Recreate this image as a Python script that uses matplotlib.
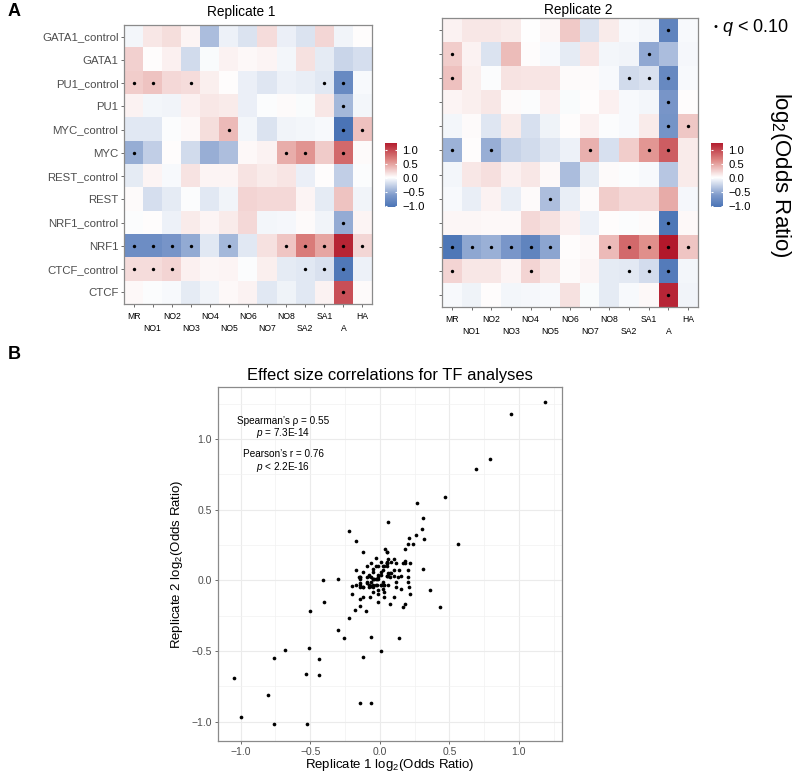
import numpy as np
import matplotlib
matplotlib.use("Agg")
import matplotlib.pyplot as plt
from matplotlib.colors import LinearSegmentedColormap, Normalize

plt.rcParams["font.family"] = ["Liberation Sans", "DejaVu Sans"]
plt.rcParams["mathtext.fontset"] = "custom"
plt.rcParams["mathtext.rm"] = "Liberation Sans"
plt.rcParams["mathtext.it"] = "Liberation Sans:italic"

# rows of the heatmaps (top to bottom) and columns (left to right)
tfs = ["GATA1_control", "GATA1", "PU1_control", "PU1", "MYC_control", "MYC",
       "REST_control", "REST", "NRF1_control", "NRF1", "CTCF_control", "CTCF"]
regions = ["MR", "NO1", "NO2", "NO3", "NO4", "NO5", "NO6", "NO7", "NO8",
           "SA2", "SA1", "A", "HA"]

# log2(odds ratio), replicate 1
rep1 = np.array([
    [-0.05, 0.12, 0.17, 0.05, -0.41, -0.08, -0.17, 0.18, -0.09, -0.17, 0.21, -0.06, 0.01],
    [0.24, 0.01, 0.07, -0.22, -0.02, 0.06, 0.03, 0.05, -0.05, 0.15, -0.12, -0.26, -0.20],
    [0.26, 0.31, 0.20, 0.18, 0.08, 0.01, -0.09, -0.15, -0.08, -0.10, -0.14, -0.80, -0.03],
    [0.06, -0.05, -0.06, 0.07, 0.12, 0.10, -0.09, -0.01, 0.02, -0.02, 0.12, -0.44, -0.05],
    [-0.14, -0.14, -0.01, 0.03, 0.17, 0.36, -0.05, -0.17, -0.06, -0.05, -0.03, -1.05, 0.32],
    [-0.51, -0.30, 0.01, -0.22, -0.50, -0.40, 0.03, 0.06, 0.43, 0.56, 0.27, 0.79, 0.02],
    [-0.12, 0.05, -0.03, 0.14, 0.05, 0.05, 0.14, 0.10, 0.13, -0.09, 0.01, -0.30, -0.01],
    [0.02, -0.20, -0.12, -0.01, -0.14, -0.06, 0.22, 0.20, 0.20, 0.05, -0.12, 0.31, -0.06],
    [-0.01, 0.01, -0.08, 0.10, 0.05, 0.10, 0.20, -0.05, -0.04, 0.02, -0.06, -0.52, 0.05],
    [-0.76, -0.76, -0.68, -0.53, -0.14, -0.44, -0.14, 0.15, 0.30, 0.69, 0.47, 1.19, 0.21],
    [0.18, 0.18, 0.22, 0.07, 0.04, 0.05, -0.01, 0.08, -0.12, -0.14, -0.18, -1.00, -0.08],
    [0.03, -0.01, -0.03, -0.12, -0.06, 0.03, 0.06, -0.14, -0.07, -0.14, 0.06, 0.94, 0.02],
])

# log2(odds ratio), replicate 2
rep2 = np.array([
    [0.06, 0.12, 0.12, 0.10, 0.00, 0.04, 0.28, -0.17, 0.10, -0.03, -0.05, -0.87, -0.03],
    [0.26, 0.06, -0.17, 0.35, 0.01, -0.03, -0.12, 0.13, -0.05, -0.06, -0.54, -0.41, -0.04],
    [0.32, 0.08, -0.01, 0.14, 0.13, 0.13, 0.02, 0.02, -0.03, -0.22, -0.18, -0.81, -0.03],
    [0.05, 0.08, 0.12, 0.02, -0.01, 0.07, -0.02, 0.01, 0.07, -0.03, -0.05, -0.67, 0.01],
    [-0.05, 0.02, -0.15, 0.10, -0.19, -0.07, 0.01, 0.07, -0.01, -0.03, 0.10, -0.69, 0.29],
    [-0.48, 0.01, -0.50, -0.27, -0.22, -0.15, -0.08, 0.41, -0.19, 0.26, 0.55, 0.86, 0.10],
    [-0.05, 0.12, 0.16, 0.07, 0.12, 0.03, -0.41, -0.12, 0.02, -0.01, -0.03, -0.35, 0.10],
    [-0.03, -0.10, 0.06, -0.10, 0.02, -0.40, -0.10, 0.02, 0.26, 0.20, 0.20, 0.44, -0.04],
    [0.04, 0.04, 0.03, 0.03, 0.20, 0.15, 0.07, -0.08, 0.01, -0.01, 0.02, -1.02, 0.03],
    [-1.02, -0.55, -0.49, -0.66, -0.87, -0.56, 0.01, 0.03, 0.36, 0.79, 0.59, 1.26, 0.30],
    [0.22, 0.12, 0.12, 0.05, 0.22, 0.12, 0.02, 0.05, -0.12, -0.13, -0.21, -0.965, -0.05],
    [-0.03, -0.07, 0.01, -0.05, -0.04, -0.03, 0.15, -0.02, -0.12, -0.03, 0.03, 1.18, -0.06],
])

# q < 0.10 flags, one string per row, one char per region
sig1 = ["0000000000000",
        "0000000000000",
        "1101000000110",
        "0000000000010",
        "0000010000011",
        "1000000011010",
        "0000000000000",
        "0000000000000",
        "0000000000010",
        "1111010011111",
        "1110000001110",
        "0000000000010"]
sig2 = ["0000000000010",
        "1000000000100",
        "1000000001110",
        "0000000000010",
        "0000000000011",
        "1010000100110",
        "0000000000000",
        "0000010000000",
        "0000000000010",
        "1111110011111",
        "1000100001110",
        "0000000000010"]

spearman_txt = ["Spearman\u2019s \u03c1 = 0.55", "$p$ = 7.3E-14"]
pearson_txt = ["Pearson\u2019s r = 0.76", "$p$ < 2.2E-16"]

W, H = 795, 776
cmap = LinearSegmentedColormap.from_list(
    "rdbu2", ["#3262AC", "#7E9ACB", "#FFFFFF", "#DE8783", "#B2182B"])
vmax = max(abs(rep1).max(), abs(rep2).max())
norm = Normalize(-vmax, vmax)
lo = min(rep1.min(), rep2.min())
hi = max(rep1.max(), rep2.max())

fig = plt.figure(figsize=(W / 100, H / 100), dpi=100)


def box(l, t, r, b):
    return [l / W, 1 - b / H, (r - l) / W, (b - t) / H]


def heatmap(ax, vals, sig, show_labels):
    ax.imshow(vals, cmap=cmap, norm=norm, aspect="auto", interpolation="nearest")
    flags = np.array([[c == "1" for c in s] for s in sig])
    rr, cc = np.nonzero(flags)
    ax.scatter(cc, rr, s=6, c="black", linewidths=0, zorder=3)
    ax.set_xticks(range(len(regions)))
    ax.set_xticklabels([r if i % 2 == 0 else "\n" + r for i, r in enumerate(regions)],
                       fontsize=6.2, linespacing=1.45)
    ax.set_yticks(range(len(tfs)))
    if show_labels:
        ax.set_yticklabels(tfs, fontsize=8.2, color="#4d4d4d")
    else:
        ax.set_yticklabels([])
    ax.tick_params(length=2.5, width=0.6, color="#555555", pad=1.5)
    ax.tick_params(axis="x", pad=3)
    for s in ax.spines.values():
        s.set_color("#8a8a8a")
        s.set_linewidth(0.9)


ax1 = fig.add_axes(box(124, 25, 372, 304))
heatmap(ax1, rep1, sig1, True)
ax2 = fig.add_axes(box(442, 18, 698, 307))
heatmap(ax2, rep2, sig2, False)
fig.text(241 / W, 1 - 12 / H, "Replicate 1", fontsize=9.8, ha="center", va="center")
fig.text(578 / W, 1 - 10 / H, "Replicate 2", fontsize=9.8, ha="center", va="center")


def colorbar(l):
    cax = fig.add_axes(box(l, 143, l + 12, 207))
    grad = np.linspace(lo, hi, 256)[:, None]
    cax.imshow(grad, cmap=cmap, norm=norm, origin="lower", aspect="auto",
               extent=[0, 1, lo, hi])
    ticks = [-1.0, -0.5, 0.0, 0.5, 1.0]
    cax.hlines(ticks, 0, 0.2, color="white", lw=0.8)
    cax.hlines(ticks, 0.8, 1, color="white", lw=0.8)
    cax.set_xticks([])
    cax.yaxis.tick_right()
    cax.set_yticks(ticks)
    cax.set_yticklabels([f"{t:.1f}".replace("-", "\u2212") for t in ticks], fontsize=8.1)
    cax.tick_params(length=0, pad=4)
    cax.set_ylim(lo, hi)
    for s in cax.spines.values():
        s.set_visible(False)


colorbar(385)
colorbar(711)

fig.text(781 / W, 1 - 175 / H, "log$_2$(Odds Ratio)", fontsize=16, rotation=270,
         ha="center", va="center")
fig.text(716 / W, 1 - 27 / H, "\u2022", fontsize=8, ha="center", va="center")
fig.text(722 / W, 1 - 27 / H, "$q$ < 0.10", fontsize=13, ha="left", va="center")

fig.text(8 / W, 1 - 12 / H, "A", fontsize=13, fontweight="bold", va="center")
fig.text(8 / W, 1 - 355 / H, "B", fontsize=13, fontweight="bold", va="center")

# scatter of replicate 1 vs replicate 2
ax3 = fig.add_axes(box(218, 387, 562, 741))
ax3.scatter(rep1.ravel(), rep2.ravel(), s=7, c="black", linewidths=0, zorder=3)
ax3.set_xlim(-1.163, 1.31)
ax3.set_ylim(-1.137, 1.368)
major = [-1.0, -0.5, 0.0, 0.5, 1.0]
minor = [-0.75, -0.25, 0.25, 0.75, 1.25]
ax3.set_xticks(major)
ax3.set_yticks(major)
ax3.set_xticks(minor, minor=True)
ax3.set_yticks(minor, minor=True)
lab = [f"{t:.1f}".replace("-", "\u2212") for t in major]
ax3.set_xticklabels(lab, fontsize=7.5, color="#4d4d4d")
ax3.set_yticklabels(lab, fontsize=7.5, color="#4d4d4d")
ax3.tick_params(which="major", length=2.5, width=0.6, color="#555555", pad=2)
ax3.tick_params(which="minor", length=0)
ax3.grid(which="major", color="#EBEBEB", lw=0.8)
ax3.grid(which="minor", color="#F2F2F2", lw=0.5)
ax3.set_axisbelow(True)
for s in ax3.spines.values():
    s.set_color("#8a8a8a")
    s.set_linewidth(0.9)

for txt, y in zip(spearman_txt + pearson_txt, [0.904, 0.870, 0.811, 0.774]):
    ax3.text(0.189, y, txt, transform=ax3.transAxes, fontsize=7.2,
             ha="center", va="center")

fig.text(390 / W, 1 - 375 / H, "Effect size correlations for TF analyses",
         fontsize=11.9, ha="center", va="center")
fig.text(390 / W, 1 - 765 / H, "Replicate 1 log$_2$(Odds Ratio)", fontsize=9.5,
         ha="center", va="center")
fig.text(177 / W, 1 - 564 / H, "Replicate 2 log$_2$(Odds Ratio)", fontsize=9.5,
         ha="center", va="center", rotation=90)

fig.savefig("out.png", dpi=100)
